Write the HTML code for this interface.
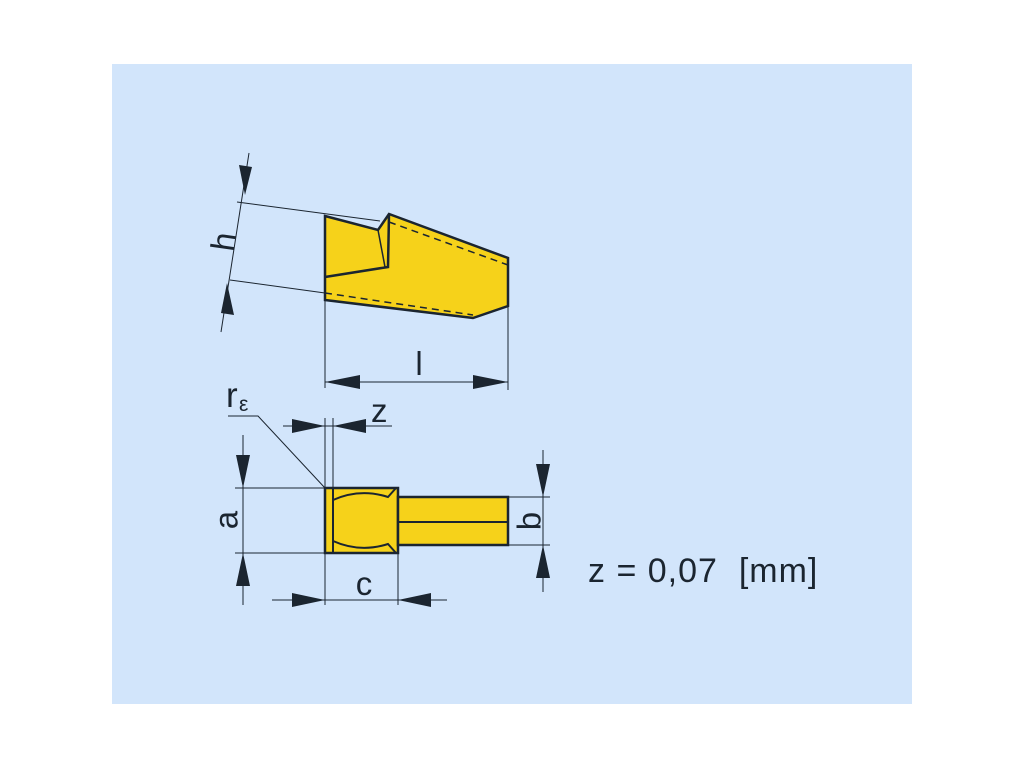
<!DOCTYPE html>
<html><head><meta charset="utf-8"><style>
html,body{margin:0;padding:0;background:#fff;width:1024px;height:768px;overflow:hidden}
svg{position:absolute;left:0;top:0}
text{font-family:"Liberation Sans",sans-serif;fill:#1b2530}
</style></head><body>
<svg width="1024" height="768" viewBox="0 0 1024 768">
<rect x="112" y="64" width="800" height="640" fill="#d2e5fb"/>
<g stroke="#1b2530" fill="none">
<polygon points="325,216 378,230 389,214 508,258 508,306 473,318 325,300" fill="#f6d21a" stroke-width="2.5"/>
<polyline points="389,214 388,267 325,277" stroke-width="2.5"/>
<line x1="378" y1="230" x2="385" y2="267" stroke-width="1.5"/>
<line x1="389" y1="222" x2="508" y2="265" stroke-width="1.5" stroke-dasharray="7,5"/>
<line x1="325" y1="293" x2="473" y2="315" stroke-width="1.5" stroke-dasharray="7,5"/>
<line x1="237" y1="202" x2="380" y2="221" stroke-width="1"/>
<line x1="230" y1="280" x2="325" y2="293" stroke-width="1"/>
<line x1="249" y1="153" x2="221" y2="332" stroke-width="1"/>
<line x1="325" y1="300" x2="325" y2="388" stroke-width="1"/>
<line x1="508" y1="306" x2="508" y2="390" stroke-width="1"/>
<line x1="325" y1="382" x2="508" y2="382" stroke-width="1"/>
<rect x="325" y="488" width="73" height="65" fill="#f6d21a" stroke-width="2.5"/>
<line x1="333" y1="488" x2="333" y2="553" stroke-width="2"/>
<path d="M333,500 Q360,488 388,497 L396,488 M333,541 Q360,553 388,544 L396,553" stroke-width="2"/>
<rect x="398" y="497" width="110" height="48" fill="#f6d21a" stroke-width="2.5"/>
<line x1="398" y1="522" x2="508" y2="522" stroke-width="2"/>
<line x1="235" y1="488" x2="325" y2="488" stroke-width="1"/>
<line x1="235" y1="553" x2="325" y2="553" stroke-width="1"/>
<line x1="243" y1="435" x2="243" y2="605" stroke-width="1"/>
<line x1="325" y1="418" x2="325" y2="605" stroke-width="1"/>
<line x1="333" y1="418" x2="333" y2="488" stroke-width="1"/>
<line x1="283" y1="426" x2="392" y2="426" stroke-width="1"/>
<polyline points="228,416 258,416 325,488" stroke-width="1"/>
<line x1="398" y1="548" x2="398" y2="605" stroke-width="1"/>
<line x1="272" y1="600" x2="447" y2="600" stroke-width="1"/>
<line x1="508" y1="497" x2="550" y2="497" stroke-width="1"/>
<line x1="508" y1="545" x2="550" y2="545" stroke-width="1"/>
<line x1="543" y1="450" x2="543" y2="592" stroke-width="1"/>
</g>
<g fill="#1b2530">
<polygon points="245,195 239,165 252,167"/>
<polygon points="227,283 221,313 234,315"/>
<polygon points="325,382 360,375 360,389"/>
<polygon points="508,382 473,375 473,389"/>
<polygon points="243,488 236,455 250,455"/>
<polygon points="243,553 236,586 250,586"/>
<polygon points="325,426 292,419 292,433"/>
<polygon points="333,426 366,419 366,433"/>
<polygon points="325,600 292,593 292,607"/>
<polygon points="398,600 431,593 431,607"/>
<polygon points="543,497 536,464 550,464"/>
<polygon points="543,545 536,578 550,578"/>
</g>
<text x="226" y="242" font-size="33" transform="rotate(-82 226 242)" text-anchor="middle" dominant-baseline="middle">h</text>
<text x="419" y="375" font-size="33" text-anchor="middle">l</text>
<text x="226" y="407" font-size="35">r</text>
<text x="239" y="411" font-size="21">ε</text>
<text x="371" y="422" font-size="33">z</text>
<text x="229" y="520" font-size="33" transform="rotate(-90 229 520)" text-anchor="middle" dominant-baseline="middle">a</text>
<text x="364" y="595" font-size="33" text-anchor="middle">c</text>
<text x="532" y="521" font-size="33" transform="rotate(-90 532 521)" text-anchor="middle" dominant-baseline="middle">b</text>
<text x="588" y="582" font-size="34" letter-spacing="1" xml:space="preserve">z = 0,07  [mm]</text>
</svg>
</body></html>
